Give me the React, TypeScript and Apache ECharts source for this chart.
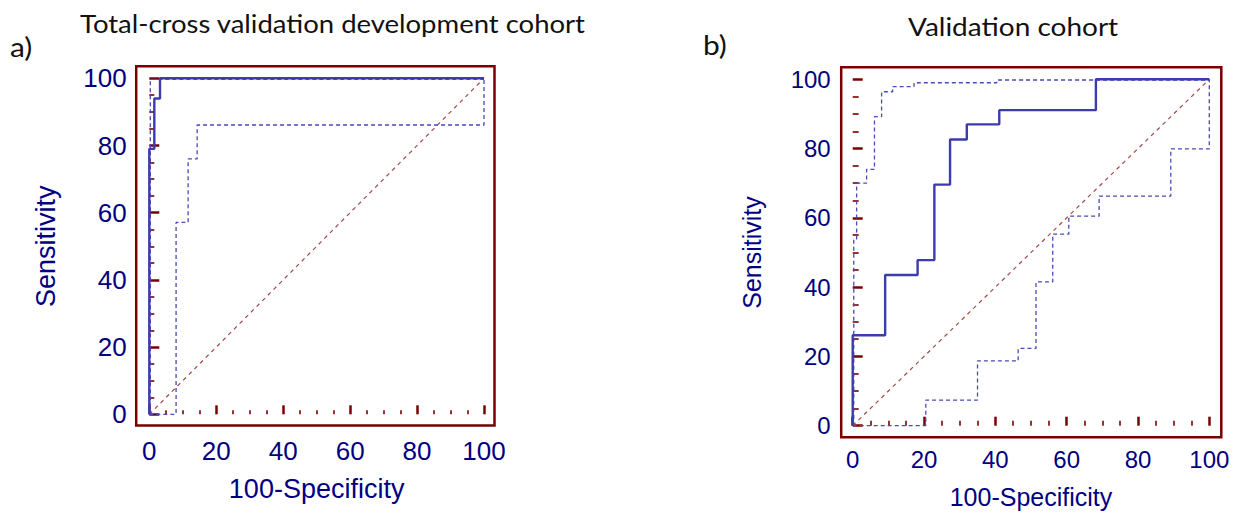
import React, { useEffect, useRef } from "react";
import * as echarts from "echarts";

// ---------- data ----------
const xTicks = [0, 20, 40, 60, 80, 100];
const titleA = "Total-cross validation development cohort";
const titleB = "Validation cohort";
const panelTagA = "a)";
const panelTagB = "b)";
const xName = "100-Specificity";
const yName = "Sensitivity";

// Panel a: development cohort (100-Specificity, Sensitivity)
const devRoc: [number, number][] = [
  [0, 0], [0, 79], [1.5, 79], [1.5, 94], [3.2, 94], [3.2, 100], [100, 100],
];
const devUpper: [number, number][] = [
  [0.3, 0], [0.3, 99.7], [100, 99.7],
];
const devLower: [number, number][] = [
  [0, 0], [8, 0], [8, 57.1], [11.6, 57.1], [11.6, 76], [14.3, 76], [14.3, 86.1],
  [100, 86.1], [100, 100],
];

// Panel b: validation cohort
const valRoc: [number, number][] = [
  [0, 0], [0, 26.1], [9.1, 26.1], [9.1, 43.5], [18.2, 43.5], [18.2, 47.8],
  [22.9, 47.8], [22.9, 69.6], [27.3, 69.6], [27.3, 82.6], [32, 82.6], [32, 87],
  [41.1, 87], [41.1, 91.1], [68.2, 91.1], [68.2, 100], [100, 100],
];
const valUpper: [number, number][] = [
  [0.3, 0], [0.3, 53.6], [1.1, 53.6], [1.1, 70], [3.9, 70], [3.9, 74], [6.1, 74],
  [6.1, 89.2], [8.1, 89.2], [8.1, 96.4], [11.2, 96.4], [11.2, 97.9], [17.2, 97.9],
  [17.2, 99], [40.4, 99], [40.4, 99.8], [100, 99.8],
];
const valLower: [number, number][] = [
  [0, 0], [20.5, 0], [20.5, 7.4], [35, 7.4], [35, 18.7], [46.4, 18.7], [46.4, 22.3],
  [51.4, 22.3], [51.4, 41.5], [56.1, 41.5], [56.1, 55.3], [60.6, 55.3], [60.6, 60.5],
  [69.1, 60.5], [69.1, 66.3], [89.2, 66.3], [89.2, 79.9], [100, 79.9], [100, 100],
];
const diagonal: [number, number][] = [[0, 0], [100, 100]];

// ---------- styles ----------
const MAROON = "#7a0000";
const NAVY = "#000080";
const SOLID = "#3c3caa";
const DASH = "#4a4ab8";
const DIAG = "#a84848";
const AXIS_FONT = "Liberation Sans, Arial, sans-serif";
const TITLE_FONT = "Lato, 'Open Sans', sans-serif";
const TITLE_COLOR = "#111111";

type Layout = {
  left: number; top: number; width: number; height: number;
  padL: number; padT: number; padR: number; padB: number;
  yTick: number; yMinor: number; xTick: number; xMinor: number;
  labelFont: number; nameFont: number;
  xMargin: number; yMargin: number; xNameGap: number; yNameGap: number;
};

const LA: Layout = {
  left: 149.3, top: 78.3, width: 334.7, height: 336,
  padL: 13.1, padT: 12.1, padR: 10.5, padB: 11.2,
  yTick: 10, yMinor: 5, xTick: 9, xMinor: 4,
  labelFont: 26, nameFont: 27,
  xMargin: 12, yMargin: 9.5, xNameGap: 50, yNameGap: 77,
};
const LB: Layout = {
  left: 852.7, top: 79.3, width: 356.6, height: 346.4,
  padL: 11.5, padT: 12.1, padR: 12, padB: 11.5,
  yTick: 10, yMinor: 6, xTick: 9, xMinor: 5,
  labelFont: 24, nameFont: 25,
  xMargin: 10.5, yMargin: 10.5, xNameGap: 47, yNameGap: 77,
};

function xAxisCfg(gi: number, L: Layout) {
  return {
    type: "value", gridIndex: gi, min: 0, max: 100, interval: 20,
    position: "bottom", offset: L.padB,
    axisLine: { show: false },
    axisTick: { show: true, inside: true, length: L.xTick, lineStyle: { color: MAROON, width: 2.5 } },
    minorTick: { show: true, splitNumber: 4, length: L.xMinor, lineStyle: { color: MAROON, width: 1.6 } },
    splitLine: { show: false },
    axisLabel: {
      color: NAVY, fontSize: L.labelFont, fontFamily: AXIS_FONT, margin: L.xMargin,
      formatter: (v: number) => (xTicks.includes(v) ? String(v) : ""),
    },
    name: xName, nameLocation: "middle", nameGap: L.xNameGap,
    nameTextStyle: { color: NAVY, fontSize: L.nameFont, fontFamily: AXIS_FONT },
  };
}
function yAxisCfg(gi: number, L: Layout) {
  return {
    type: "value", gridIndex: gi, min: 0, max: 100, interval: 20,
    position: "left", offset: L.padL,
    axisLine: { show: false },
    axisTick: { show: true, inside: true, length: L.yTick, lineStyle: { color: MAROON, width: 2.5 } },
    minorTick: { show: true, splitNumber: 4, length: L.yMinor, lineStyle: { color: MAROON, width: 1.6 } },
    splitLine: { show: false },
    axisLabel: {
      color: NAVY, fontSize: L.labelFont, fontFamily: AXIS_FONT, margin: L.yMargin,
    },
    name: yName, nameLocation: "middle", nameGap: L.yNameGap,
    nameTextStyle: { color: NAVY, fontSize: L.nameFont, fontFamily: AXIS_FONT },
  };
}

function lineSeries(gi: number, data: [number, number][], kind: "solid" | "dash" | "diag") {
  const style =
    kind === "solid"
      ? { color: SOLID, width: 2.4, type: "solid" }
      : kind === "dash"
      ? { color: DASH, width: 1.3, type: [4, 3] }
      : { color: DIAG, width: 1.2, type: [4, 4] };
  return {
    type: "line", xAxisIndex: gi, yAxisIndex: gi, data,
    showSymbol: false, symbol: "none", clip: false, silent: true,
    lineStyle: style, z: kind === "solid" ? 5 : kind === "dash" ? 4 : 3,
  };
}

function frameRect(L: Layout) {
  return {
    type: "rect", silent: true, z: 10,
    shape: {
      x: L.left - L.padL, y: L.top - L.padT,
      width: L.width + L.padL + L.padR, height: L.height + L.padT + L.padB,
    },
    style: { fill: "none", stroke: MAROON, lineWidth: 2.5 },
  };
}

function titleText(text: string, x: number, y: number, size: number, sx: number) {
  return {
    type: "text", x, y, scaleX: sx, silent: true,
    style: {
      text, x: 0, y: 0, fill: TITLE_COLOR, fontSize: size, fontFamily: TITLE_FONT,
      align: "left", verticalAlign: "middle",
    },
  };
}

export default function App() {
  const ref = useRef<HTMLDivElement>(null);
  useEffect(() => {
    if (!ref.current) return;
    const chart = echarts.init(ref.current, undefined, { renderer: "svg" });
    chart.setOption({
      animation: false,
      backgroundColor: "#ffffff",
      grid: [
        { left: LA.left, top: LA.top, width: LA.width, height: LA.height },
        { left: LB.left, top: LB.top, width: LB.width, height: LB.height },
      ],
      xAxis: [xAxisCfg(0, LA), xAxisCfg(1, LB)],
      yAxis: [yAxisCfg(0, LA), yAxisCfg(1, LB)],
      series: [
        lineSeries(0, diagonal, "diag"),
        lineSeries(0, devLower, "dash"),
        lineSeries(0, devUpper, "dash"),
        lineSeries(0, devRoc, "solid"),
        lineSeries(1, diagonal, "diag"),
        lineSeries(1, valLower, "dash"),
        lineSeries(1, valUpper, "dash"),
        lineSeries(1, valRoc, "solid"),
      ],
      graphic: [
        frameRect(LA),
        frameRect(LB),
        titleText(titleA, 80, 23, 25, 1.1),
        titleText(titleB, 908, 27, 25, 1.12),
        titleText(panelTagA, 10, 47, 26, 1.15),
        titleText(panelTagB, 703, 45, 26, 1.15),
      ],
    });
    return () => chart.dispose();
  }, []);
  return (
    <div
      ref={ref}
      style={{ position: "fixed", left: 0, top: 0, width: 1250, height: 515, background: "#fff" }}
    />
  );
}
